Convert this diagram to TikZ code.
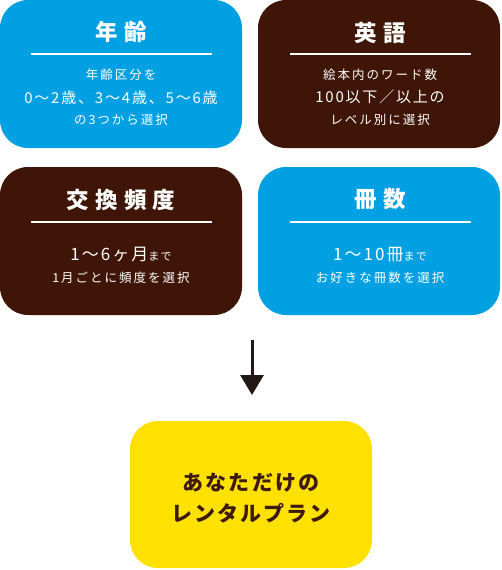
\documentclass[tikz,border=0pt]{standalone}
\usepackage{fontspec}
\setmainfont{Noto Sans CJK JP}
\usetikzlibrary{arrows.meta}
\definecolor{cblue}{RGB}{0,160,226}
\definecolor{cbrown}{RGB}{62,21,6}
\definecolor{cyellow}{RGB}{255,225,0}
\definecolor{cdark}{RGB}{35,24,21}
\definecolor{ctext}{RGB}{62,26,10}
\newcommand{\ls}[1]{\addfontfeatures{LetterSpace=#1}}
\tikzset{
  card/.style={rounded corners=28pt, minimum width=242pt, minimum height=148pt, inner sep=0pt, draw=none},
  ttl/.style={text=white, inner sep=0pt, font=\fontsize{22.5pt}{24pt}\selectfont\bfseries\ls{28}},
  bodyA/.style={text=white, inner sep=0pt, font=\fontsize{12.5pt}{14pt}\selectfont\ls{16}},
  bodyB/.style={text=white, inner sep=0pt, font=\fontsize{15pt}{17pt}\selectfont\ls{12}},
  rule/.style={white, line width=2pt},
  flow/.style={cdark, line width=3pt, -{Triangle[width=23pt,length=20pt]}},
  result/.style={text=ctext, inner sep=0pt, align=center, font=\fontsize{21pt}{31pt}\selectfont\bfseries\ls{10}}
}
\begin{document}
\begin{tikzpicture}[x=1pt,y=-1pt]
\useasboundingbox (0,0) rectangle (501,570);
% cards
\node[card, fill=cblue]   (age)  at (121,74)  {};
\node[card, fill=cbrown]  (eng)  at (379,74)  {};
\node[card, fill=cbrown]  (freq) at (121,241) {};
\node[card, fill=cblue]   (num)  at (379,241) {};
\node[rounded corners=28pt, minimum width=242pt, minimum height=147pt, fill=cyellow, inner sep=0pt] (plan) at (251,494.5) {};
% age
\node[ttl] (ageT) at (121,32) {年齢};
\draw[rule] (31,54) coordinate (ageL1) -- (212,54) coordinate (ageL2);
\node[bodyA] (ageB1) at (121,75) {年齢区分を};
\node[bodyB] (ageB2) at (121,98) {0～2歳、3～4歳、5～6歳};
\node[bodyA] (ageB3) at (121,120) {の3つから選択};
% english
\node[ttl] (engT) at (380,33) {英語};
\draw[rule] (290,54) coordinate (engL1) -- (471,54) coordinate (engL2);
\node[bodyA] (engB1) at (380,75) {絵本内のワード数};
\node[bodyB] (engB2) at (380,97) {100以下／以上の};
\node[bodyA] (engB3) at (380,120) {レベル別に選択};
% frequency
\node[ttl] (freqT) at (121,200) {交換頻度};
\draw[rule] (31,222) coordinate (freqL1) -- (212,222) coordinate (freqL2);
\node[bodyB] (freqB1) at (121,254) {\fontsize{17pt}{19pt}\selectfont 1～6ヶ月\fontsize{11pt}{13pt}\selectfont まで};
\node[bodyA] (freqB2) at (121,278) {1月ごとに頻度を選択};
% number
\node[ttl] (numT) at (380,199) {冊数};
\draw[rule] (290,222) coordinate (numL1) -- (471,222) coordinate (numL2);
\node[bodyB] (numB1) at (380,255) {\fontsize{17pt}{19pt}\selectfont 1～10冊\fontsize{11pt}{13pt}\selectfont まで};
\node[bodyA] (numB2) at (380,278) {お好きな冊数を選択};
% arrow
\coordinate (aS) at (252,340);
\coordinate (aE) at (252,395);
\draw[flow] (aS) -- (aE);
% result
\node[result] (planT) at (251,498) {あなただけの\\レンタルプラン};
\end{tikzpicture}
\end{document}
